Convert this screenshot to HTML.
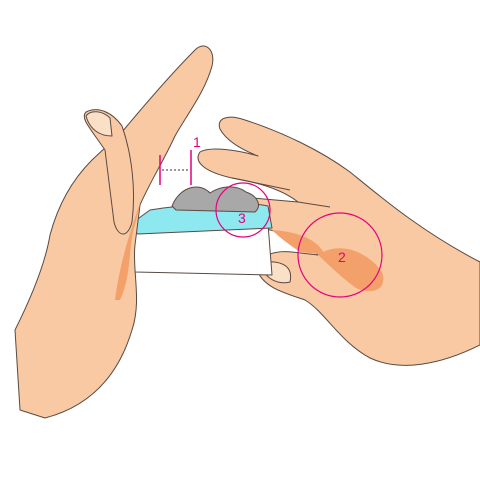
<!DOCTYPE html>
<html><head><meta charset="utf-8"><style>
html,body{margin:0;padding:0;background:#fff;width:480px;height:480px;overflow:hidden}
svg{display:block}
text{font-family:"Liberation Sans",sans-serif}
</style></head><body>
<svg width="480" height="480" viewBox="0 0 480 480">
<g stroke="#5a4a42" stroke-width="1" stroke-linejoin="round">
  <!-- right hand -->
  <g>
    <path d="M480,345 C440,365 400,372 370,358 C340,342 325,312 305,300 C285,293 265,288 258,272 C255,257 272,250 292,252 L318,255 C305,242 290,234 270,230 L245,222 C232,214 236,200 252,198 L298,202 C280,188 255,182 232,178 C205,172 193,162 200,152 C210,146 238,150 258,156 C240,149 226,140 220,129 C216,118 228,114 245,120 C282,132 320,150 350,172 C382,198 422,232 480,262 Z" fill="#f8c9a3"/>
    <path d="M318,255 C340,240 368,252 382,272 C388,290 372,295 356,288 C342,278 330,266 318,255 Z" fill="#f3a06a" stroke="none"/>
    <path d="M272,230 C300,232 318,240 325,255 L300,252 C290,245 280,238 272,230 Z" fill="#f3a06a" stroke="none"/>
    <path d="M262,262 C260,274 275,286 290,282 C293,268 285,260 262,262 Z" fill="#fbe0c8"/>
    <path d="M298,202 L330,207 M232,178 L290,190" fill="none"/>
  </g>
  <!-- object -->
  <g>
    <path d="M130,230 L268,224 L272,275 L135,272 Z" fill="#fff"/>
    <path d="M128,226 L150,210 C180,205 240,200 268,206 L272,228 L138,234 Z" fill="#8de8f0"/>
    <path d="M172,206 C180,186 200,182 210,193 C220,186 236,184 246,192 C258,196 262,206 255,212 L176,210 Z" fill="#a8a8a8"/>
  </g>
  <!-- left hand -->
  <g>
    <path d="M15,330 C30,300 45,265 50,235 C58,205 72,180 92,160 L122,132 C142,108 170,75 195,50 C205,40 216,50 212,66 C205,92 186,116 175,136 C163,162 150,182 140,205 L135,245 C132,270 142,300 132,330 C120,370 95,405 45,418 L20,410 Z" fill="#f8c9a3"/>
    <path d="M120,300 C132,275 128,245 135,225 L141,200 C130,232 120,262 115,300 Z" fill="#f3a06a" stroke="none"/>
    <path d="M105,150 C90,128 80,118 86,112 C98,106 112,112 122,126 C132,155 136,190 132,222 C128,238 118,238 114,222 Z" fill="#f8c9a3"/>
    <path d="M86,116 C90,110 102,110 110,118 L112,136 C100,136 90,130 86,116 Z" fill="#fbe0c8"/>
  </g>
</g>
<!-- annotations -->
<g stroke="#e6007e" fill="none" stroke-width="1.5">
  <line x1="160" y1="155" x2="160" y2="185"/>
  <line x1="191" y1="150" x2="191" y2="185"/>
  <line x1="162" y1="170" x2="189" y2="170" stroke="#333" stroke-width="1" stroke-dasharray="2,2"/>
  <circle cx="340" cy="255" r="42" stroke-width="1.2"/>
  <circle cx="243" cy="210" r="27" stroke-width="1.2"/>
</g>
<g fill="#e6007e" font-size="14">
  <text x="193" y="147">1</text>
  <text x="338" y="262">2</text>
  <text x="238" y="223">3</text>
</g>
</svg>
</body></html>
